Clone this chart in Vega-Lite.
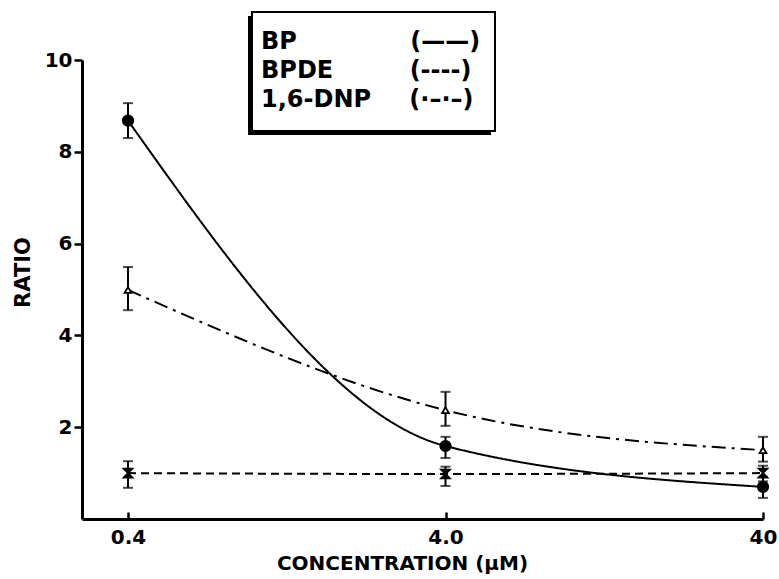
{
  "$schema": "https://vega.github.io/schema/vega-lite/v6.json",
  "width": 681,
  "height": 459,
  "autosize": {"type": "none"},
  "padding": {"left": 82, "top": 60, "right": 16, "bottom": 60},
  "background": "white",
  "config": {
    "view": {"stroke": null},
    "font": "DejaVu Sans",
    "axis": {"grid": false, "domainColor": "black", "tickColor": "black", "labelColor": "black", "titleColor": "black"}
  },
  "data": {
    "values": [
      {"series": "BP", "conc": 0.4, "ratio": 8.68, "lo": 8.30, "hi": 9.06},
      {"series": "BP", "conc": 4, "ratio": 1.59, "lo": 1.33, "hi": 1.79},
      {"series": "BP", "conc": 40, "ratio": 0.70, "lo": 0.46, "hi": 0.92},
      {"series": "BPDE", "conc": 0.4, "ratio": 1.0, "lo": 0.68, "hi": 1.26},
      {"series": "BPDE", "conc": 4, "ratio": 0.98, "lo": 0.72, "hi": 1.14},
      {"series": "BPDE", "conc": 40, "ratio": 1.0, "lo": 0.82, "hi": 1.16},
      {"series": "1,6-DNP", "conc": 0.4, "ratio": 4.99, "lo": 4.55, "hi": 5.49},
      {"series": "1,6-DNP", "conc": 4, "ratio": 2.37, "lo": 2.03, "hi": 2.77},
      {"series": "1,6-DNP", "conc": 40, "ratio": 1.50, "lo": 1.25, "hi": 1.79}
    ]
  },
  "encoding": {
    "x": {
      "field": "conc",
      "type": "quantitative",
      "scale": {"type": "log", "domain": [0.2865, 40], "nice": false},
      "axis": {
        "values": [0.4, 4, 40],
        "labelExpr": "datum.value < 1 ? '0.4' : datum.value < 10 ? '4.0' : '40'",
        "labelFlush": false,
        "labelFontSize": 20,
        "labelFontWeight": "bold",
        "tickSize": -7,
        "tickWidth": 2.5,
        "domainWidth": 3,
        "labelPadding": 15,
        "title": "CONCENTRATION  (μM)",
        "titleFontSize": 20,
        "titleFontWeight": "bold",
        "titleX": 320,
        "titlePadding": 6
      }
    }
  },
  "layer": [
    {
      "mark": {"type": "line", "interpolate": "monotone", "strokeWidth": 2, "color": "black"},
      "encoding": {
        "y": {
          "field": "ratio",
          "type": "quantitative",
          "scale": {"domain": [0, 10], "nice": false},
          "axis": {
            "values": [2, 4, 6, 8, 10],
            "labelFontSize": 20,
            "labelFontWeight": "bold",
            "tickSize": 8,
            "tickWidth": 2.5,
            "domainWidth": 3,
            "labelPadding": 2,
            "title": "RATIO",
            "titleFontSize": 21,
            "titleFontWeight": "bold",
            "titlePadding": 11,
            "titleY": 212
          }
        },
        "strokeDash": {
          "field": "series",
          "type": "nominal",
          "scale": {"domain": ["BP", "BPDE", "1,6-DNP"], "range": [[1, 0], [8, 5], [14, 6, 3, 6]]},
          "legend": {
            "orient": "none",
            "legendX": 155,
            "legendY": -30,
            "title": null,
            "zindex": 3,
            "padding": 0,
            "symbolType": "stroke",
            "symbolSize": 0,
            "symbolOpacity": 0,
            "symbolStrokeWidth": 0,
            "labelOffset": 0,
            "labelFont": "DejaVu Sans",
            "labelFontSize": 24,
            "labelFontWeight": "bold",
            "labelColor": "black",
            "labelLimit": 400,
            "rowPadding": 5,
            "labelExpr": "datum.label == 'BP' ? 'BP\u00a0\u00a0\u00a0\u00a0\u00a0\u00a0\u00a0\u00a0\u00a0\u00a0\u00a0\u00a0\u00a0\u2009(——)' : datum.label == 'BPDE' ? 'BPDE\u00a0\u00a0\u00a0\u00a0\u00a0\u00a0\u00a0\u00a0\u2009\u2009(----)' : '1,6-DNP\u00a0\u00a0\u00a0\u00a0\u2009(·–·–)'"
          }
        }
      }
    },
    {
      "mark": {"type": "rule", "strokeWidth": 2},
      "encoding": {
        "y": {"field": "lo", "type": "quantitative"},
        "y2": {"field": "hi"},
        "stroke": {
          "field": "hi",
          "type": "quantitative",
          "scale": {"range": ["black", "black"]},
          "legend": {
            "orient": "none",
            "legendX": 166,
            "legendY": -44,
            "title": null,
            "zindex": 1,
            "padding": 0,
            "direction": "horizontal",
            "gradientLength": 243,
            "gradientThickness": 119,
            "gradientStrokeWidth": 0,
            "labelExpr": "''"
          }
        },
        "fill": {
          "field": "lo",
          "type": "quantitative",
          "scale": {"range": ["white", "white"]},
          "legend": {
            "orient": "none",
            "legendX": 170,
            "legendY": -48,
            "title": null,
            "zindex": 2,
            "padding": 0,
            "direction": "horizontal",
            "gradientLength": 243,
            "gradientThickness": 119,
            "gradientStrokeColor": "black",
            "gradientStrokeWidth": 2,
            "labelExpr": "''"
          }
        }
      }
    },
    {
      "mark": {"type": "tick", "orient": "horizontal", "size": 10, "thickness": 2, "color": "black"},
      "encoding": {"y": {"field": "lo", "type": "quantitative"}}
    },
    {
      "mark": {"type": "tick", "orient": "horizontal", "size": 10, "thickness": 2, "color": "black"},
      "encoding": {"y": {"field": "hi", "type": "quantitative"}}
    },
    {
      "mark": {"type": "point", "filled": true, "stroke": "black", "strokeWidth": 1.8, "opacity": 1},
      "encoding": {
        "y": {"field": "ratio", "type": "quantitative"},
        "shape": {
          "field": "series",
          "type": "nominal",
          "scale": {"domain": ["BP", "BPDE", "1,6-DNP"], "range": ["circle", "M-1,-1L1,-1L-1,1L1,1Z", "triangle-up"]},
          "legend": null
        },
        "color": {
          "field": "series",
          "type": "nominal",
          "scale": {"domain": ["BP", "BPDE", "1,6-DNP"], "range": ["black", "black", "white"]},
          "legend": null
        },
        "size": {
          "field": "series",
          "type": "nominal",
          "scale": {"domain": ["BP", "BPDE", "1,6-DNP"], "range": [110, 45, 260]},
          "legend": null
        }
      }
    }
  ]
}
